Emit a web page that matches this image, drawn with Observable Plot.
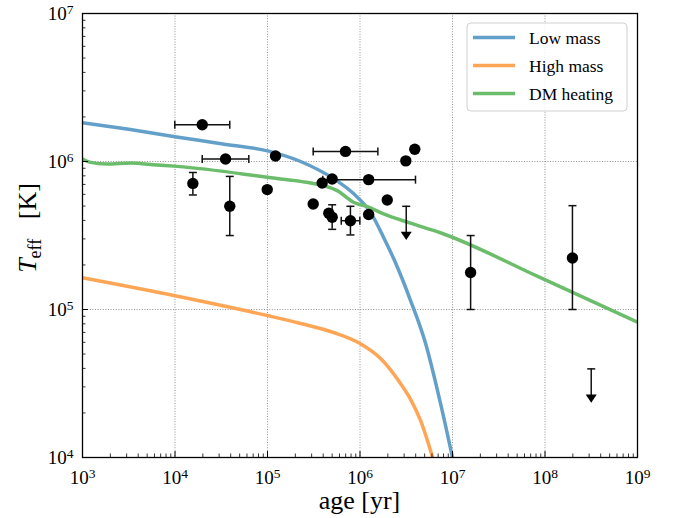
<!DOCTYPE html>
<html><head><meta charset="utf-8">
<script src="https://cdn.jsdelivr.net/npm/d3@7"></script>
<script src="https://cdn.jsdelivr.net/npm/@observablehq/plot@0.6"></script>
<style>html,body{margin:0;padding:0;background:#fff;}</style>
</head><body><div id="chart"></div>
<script>
// ---- model curves ----
const lowMassAge  = [1e3, 3.16e3, 1e4, 3.16e4, 1e5, 2.28e5, 5.17e5, 8.5e5, 1.3e6, 1.8e6, 2.42e6, 3.52e6, 5.1e6, 7.4e6, 1e7];
const lowMassTeff = [1.83e6, 1.65e6, 1.47e6, 1.32e6, 1.18e6, 1.0e6, 7.66e5, 6.07e5, 4.53e5, 3.07e5, 2.07e5, 1.15e5, 5.94e4, 2.34e4, 1e4];
const highMassAge  = [1e3, 1e4, 1e5, 2.28e5, 5.17e5, 1e6, 1.67e6, 2.74e6, 3.52e6, 4.51e6, 6.1e6];
const highMassTeff = [1.64e5, 1.24e5, 9.1e4, 8.04e4, 6.99e4, 5.89e4, 4.66e4, 3.16e4, 2.47e4, 1.78e4, 1e4];
const dmAge  = [1e3, 1.22e3, 1.85e3, 3.3e3, 6.4e3, 1.06e4, 1.38e5, 2.28e5, 5.67e5, 8.5e5, 1.2e6, 1.8e6, 3.52e6, 7.4e6, 8.93e7, 1e9];
const dmTeff = [1.04e6, 9.87e5, 9.6e5, 9.77e5, 9.47e5, 9.27e5, 7.62e5, 7.34e5, 6.36e5, 5.3e5, 4.96e5, 4.43e5, 3.83e5, 3.3e5, 1.64e5, 8.2e4];

// ---- observed neutron stars ----
const obsAge  = [1.97e4, 3.52e4, 1.56e4, 3.91e4, 9.93e4, 1.22e5, 6.97e5, 3.13e6, 3.91e6, 3.9e5, 5.0e5, 1.24e6, 3.12e5, 1.97e6, 4.6e5, 5.0e5, 7.88e5, 1.24e6, 1.57e7, 1.98e8];
const obsTeff = [1.77e6, 1.04e6, 7.11e5, 4.98e5, 6.46e5, 1.09e6, 1.17e6, 1.01e6, 1.21e6, 7.16e5, 7.62e5, 7.54e5, 5.16e5, 5.5e5, 4.47e5, 4.2e5, 3.98e5, 4.38e5, 1.78e5, 2.23e5];
// horizontal (age) error bars: index into obs, low, high
const xErrIndex = [0, 1, 6, 11, 16];
const xErrLow   = [9.95e3, 1.97e4, 3.12e5, 3.96e5, 6.27e5];
const xErrHigh  = [3.91e4, 6.28e4, 1.56e6, 3.98e6, 9.96e5];
// vertical (temperature) error bars
const yErrIndex = [2, 3, 15, 16, 18, 19];
const yErrLow   = [5.94e5, 3.16e5, 3.48e5, 3.19e5, 1.0e5, 1.0e5];
const yErrHigh  = [8.43e5, 7.93e5, 5.1e5, 4.98e5, 3.16e5, 5.03e5];
// upper limits
const limAge  = [3.16e6, 3.16e8];
const limTeff = [4.98e5, 3.97e4];
const limEnd  = [3.14e5, 2.5e4];

// ---- tick values / labels ----
const xMajor = [1e3, 1e4, 1e5, 1e6, 1e7, 1e8, 1e9];
const yMajor = [1e4, 1e5, 1e6, 1e7];
const seriesNames = ["Low mass", "High mass", "DM heating"];
const seriesColors = ["#62a0ca", "#ffa556", "#6bbd6b"];

const W = 675, H = 518, mL = 82, mR = 38, mT = 13, mB = 61;
const plotW = W - mL - mR, plotH = H - mT - mB;
const FONT = "'Liberation Serif', serif";

const minors = (lo, hi) => { const out = []; for (let e = lo; e < hi; e++) for (let m = 2; m <= 9; m++) out.push(m * 10 ** e); return out; };
const xMinor = minors(3, 9), yMinor = minors(4, 7);

const curves = [
  ...lowMassAge.map((a, i) => ({age: a, teff: lowMassTeff[i], s: seriesNames[0]})),
  ...highMassAge.map((a, i) => ({age: a, teff: highMassTeff[i], s: seriesNames[1]})),
  ...dmAge.map((a, i) => ({age: a, teff: dmTeff[i], s: seriesNames[2]}))
];
const obs = obsAge.map((a, i) => ({age: a, teff: obsTeff[i]}));
const xErr = xErrIndex.map((i, k) => ({teff: obsTeff[i], lo: xErrLow[k], hi: xErrHigh[k]}));
const yErr = yErrIndex.map((i, k) => ({age: obsAge[i], lo: yErrLow[k], hi: yErrHigh[k]}));
const lims = limAge.map((a, i) => ({age: a, teff: limTeff[i], end: limEnd[i]}));

const sz = (size) => Math.sqrt(size / Math.PI);
const hCap = {draw(c, s) { const r = sz(s); c.moveTo(-r, 0); c.lineTo(r, 0); }};
const vCap = {draw(c, s) { const r = sz(s); c.moveTo(0, -r); c.lineTo(0, r); }};
const downTri = {draw(c, s) { const r = sz(s); c.moveTo(-r, -r * 0.75); c.lineTo(r, -r * 0.75); c.lineTo(0, r * 0.75); c.closePath(); }};

const fmt = d => "10^" + Math.round(Math.log10(d));
const ebColor = "#111";

const chart = Plot.plot({
  width: W, height: H,
  marginLeft: mL, marginRight: mR, marginTop: mT, marginBottom: mB,
  style: {fontFamily: FONT, fontSize: "19px", background: "#fff", color: "#000"},
  x: {type: "log", domain: [1e3, 1e9], axis: null},
  y: {type: "log", domain: [1e4, 1e7], axis: null},
  color: {domain: seriesNames, range: seriesColors},
  marks: [
    Plot.gridX(xMajor.slice(1, -1), {stroke: "#777", strokeOpacity: 1, strokeWidth: 0.8, strokeDasharray: "1,1.6"}),
    Plot.gridY(yMajor.slice(1, -1), {stroke: "#777", strokeOpacity: 1, strokeWidth: 0.8, strokeDasharray: "1,1.6"}),
    Plot.line(curves, {x: "age", y: "teff", z: "s", stroke: "s", strokeWidth: 3.5, curve: "monotone-x", clip: true}),
    // error bars
    Plot.ruleY(xErr, {y: "teff", x1: "lo", x2: "hi", stroke: ebColor, strokeWidth: 1.5}),
    Plot.dot(xErr, {x: "lo", y: "teff", symbol: vCap, r: 4, stroke: ebColor, fill: "none", strokeWidth: 1.5}),
    Plot.dot(xErr, {x: "hi", y: "teff", symbol: vCap, r: 4, stroke: ebColor, fill: "none", strokeWidth: 1.5}),
    Plot.ruleX(yErr, {x: "age", y1: "lo", y2: "hi", stroke: ebColor, strokeWidth: 1.5}),
    Plot.dot(yErr, {x: "age", y: "lo", symbol: hCap, r: 4, stroke: ebColor, fill: "none", strokeWidth: 1.5}),
    Plot.dot(yErr, {x: "age", y: "hi", symbol: hCap, r: 4, stroke: ebColor, fill: "none", strokeWidth: 1.5}),
    // upper limits
    Plot.ruleX(lims, {x: "age", y1: "teff", y2: "end", stroke: ebColor, strokeWidth: 1.5}),
    Plot.dot(lims, {x: "age", y: "teff", symbol: hCap, r: 4, stroke: ebColor, fill: "none", strokeWidth: 1.5}),
    Plot.dot(lims, {x: "age", y: "end", symbol: downTri, r: 5.5, fill: "#000", stroke: "none"}),
    // points
    Plot.dot(obs, {x: "age", y: "teff", r: 5.7, fill: "#000", stroke: "none"}),
    Plot.frame({stroke: "#000", strokeWidth: 1.3}),
    // inward ticks
    Plot.tickX(xMajor, {x: d => d, insetTop: plotH - 6, stroke: "#000", strokeWidth: 1}),
    Plot.tickX(xMinor, {x: d => d, insetTop: plotH - 3.5, stroke: "#000", strokeWidth: 0.8}),
    Plot.tickY(yMajor, {y: d => d, insetRight: plotW - 6, stroke: "#000", strokeWidth: 1}),
    Plot.tickY(yMinor, {y: d => d, insetRight: plotW - 3.5, stroke: "#000", strokeWidth: 0.8}),
    Plot.axisX({ticks: xMajor, tickSize: 0, tickPadding: 13, tickFormat: fmt, label: null, fontSize: 19}),
    Plot.axisY({ticks: yMajor, tickSize: 0, tickPadding: 9, tickFormat: fmt, label: null, fontSize: 19})
  ]
});

const NS = "http://www.w3.org/2000/svg";
chart.querySelectorAll('g[aria-label="x-axis tick label"] text, g[aria-label="y-axis tick label"] text').forEach(t => {
  const m = t.textContent.match(/^10\^(\d+)$/);
  if (!m) return;
  t.textContent = "";
  const a = document.createElementNS(NS, "tspan"); a.textContent = "10"; t.appendChild(a);
  const b = document.createElementNS(NS, "tspan"); b.textContent = m[1];
  b.setAttribute("dy", "-0.42em"); b.setAttribute("font-size", "13.5"); t.appendChild(b);
});

const svg = d3.select(chart);
const txt = (sel) => sel.style("font-family", FONT).attr("fill", "#000");
// axis labels
txt(svg.append("text")).attr("x", mL + plotW / 2).attr("y", 509).attr("text-anchor", "middle")
  .style("font-size", "26px").text("age [yr]");
const yl = txt(svg.append("text")).attr("transform", `translate(36,228) rotate(-90)`)
  .attr("text-anchor", "middle").style("font-size", "26px");
yl.append("tspan").style("font-style", "italic").text("T");
yl.append("tspan").style("font-size", "18px").attr("dy", 5).text("eff");
yl.append("tspan").attr("dy", -5).text("\u2002 [K]");

// legend
const lg = svg.append("g");
lg.append("rect").attr("x", 467).attr("y", 23).attr("width", 160).attr("height", 88).attr("rx", 4)
  .attr("fill", "#fff").attr("fill-opacity", 0.85).attr("stroke", "#d0d0d0");
seriesNames.forEach((n, i) => {
  const y = 37.5 + i * 28;
  lg.append("line").attr("x1", 473).attr("x2", 515).attr("y1", y).attr("y2", y)
    .attr("stroke", seriesColors[i]).attr("stroke-width", 3.5);
  txt(lg.append("text")).attr("x", 529).attr("y", y).attr("dy", "0.35em")
    .attr("text-anchor", "start").style("font-size", "17.5px").text(n);
});

document.getElementById("chart").appendChild(chart);
</script>
</body></html>
